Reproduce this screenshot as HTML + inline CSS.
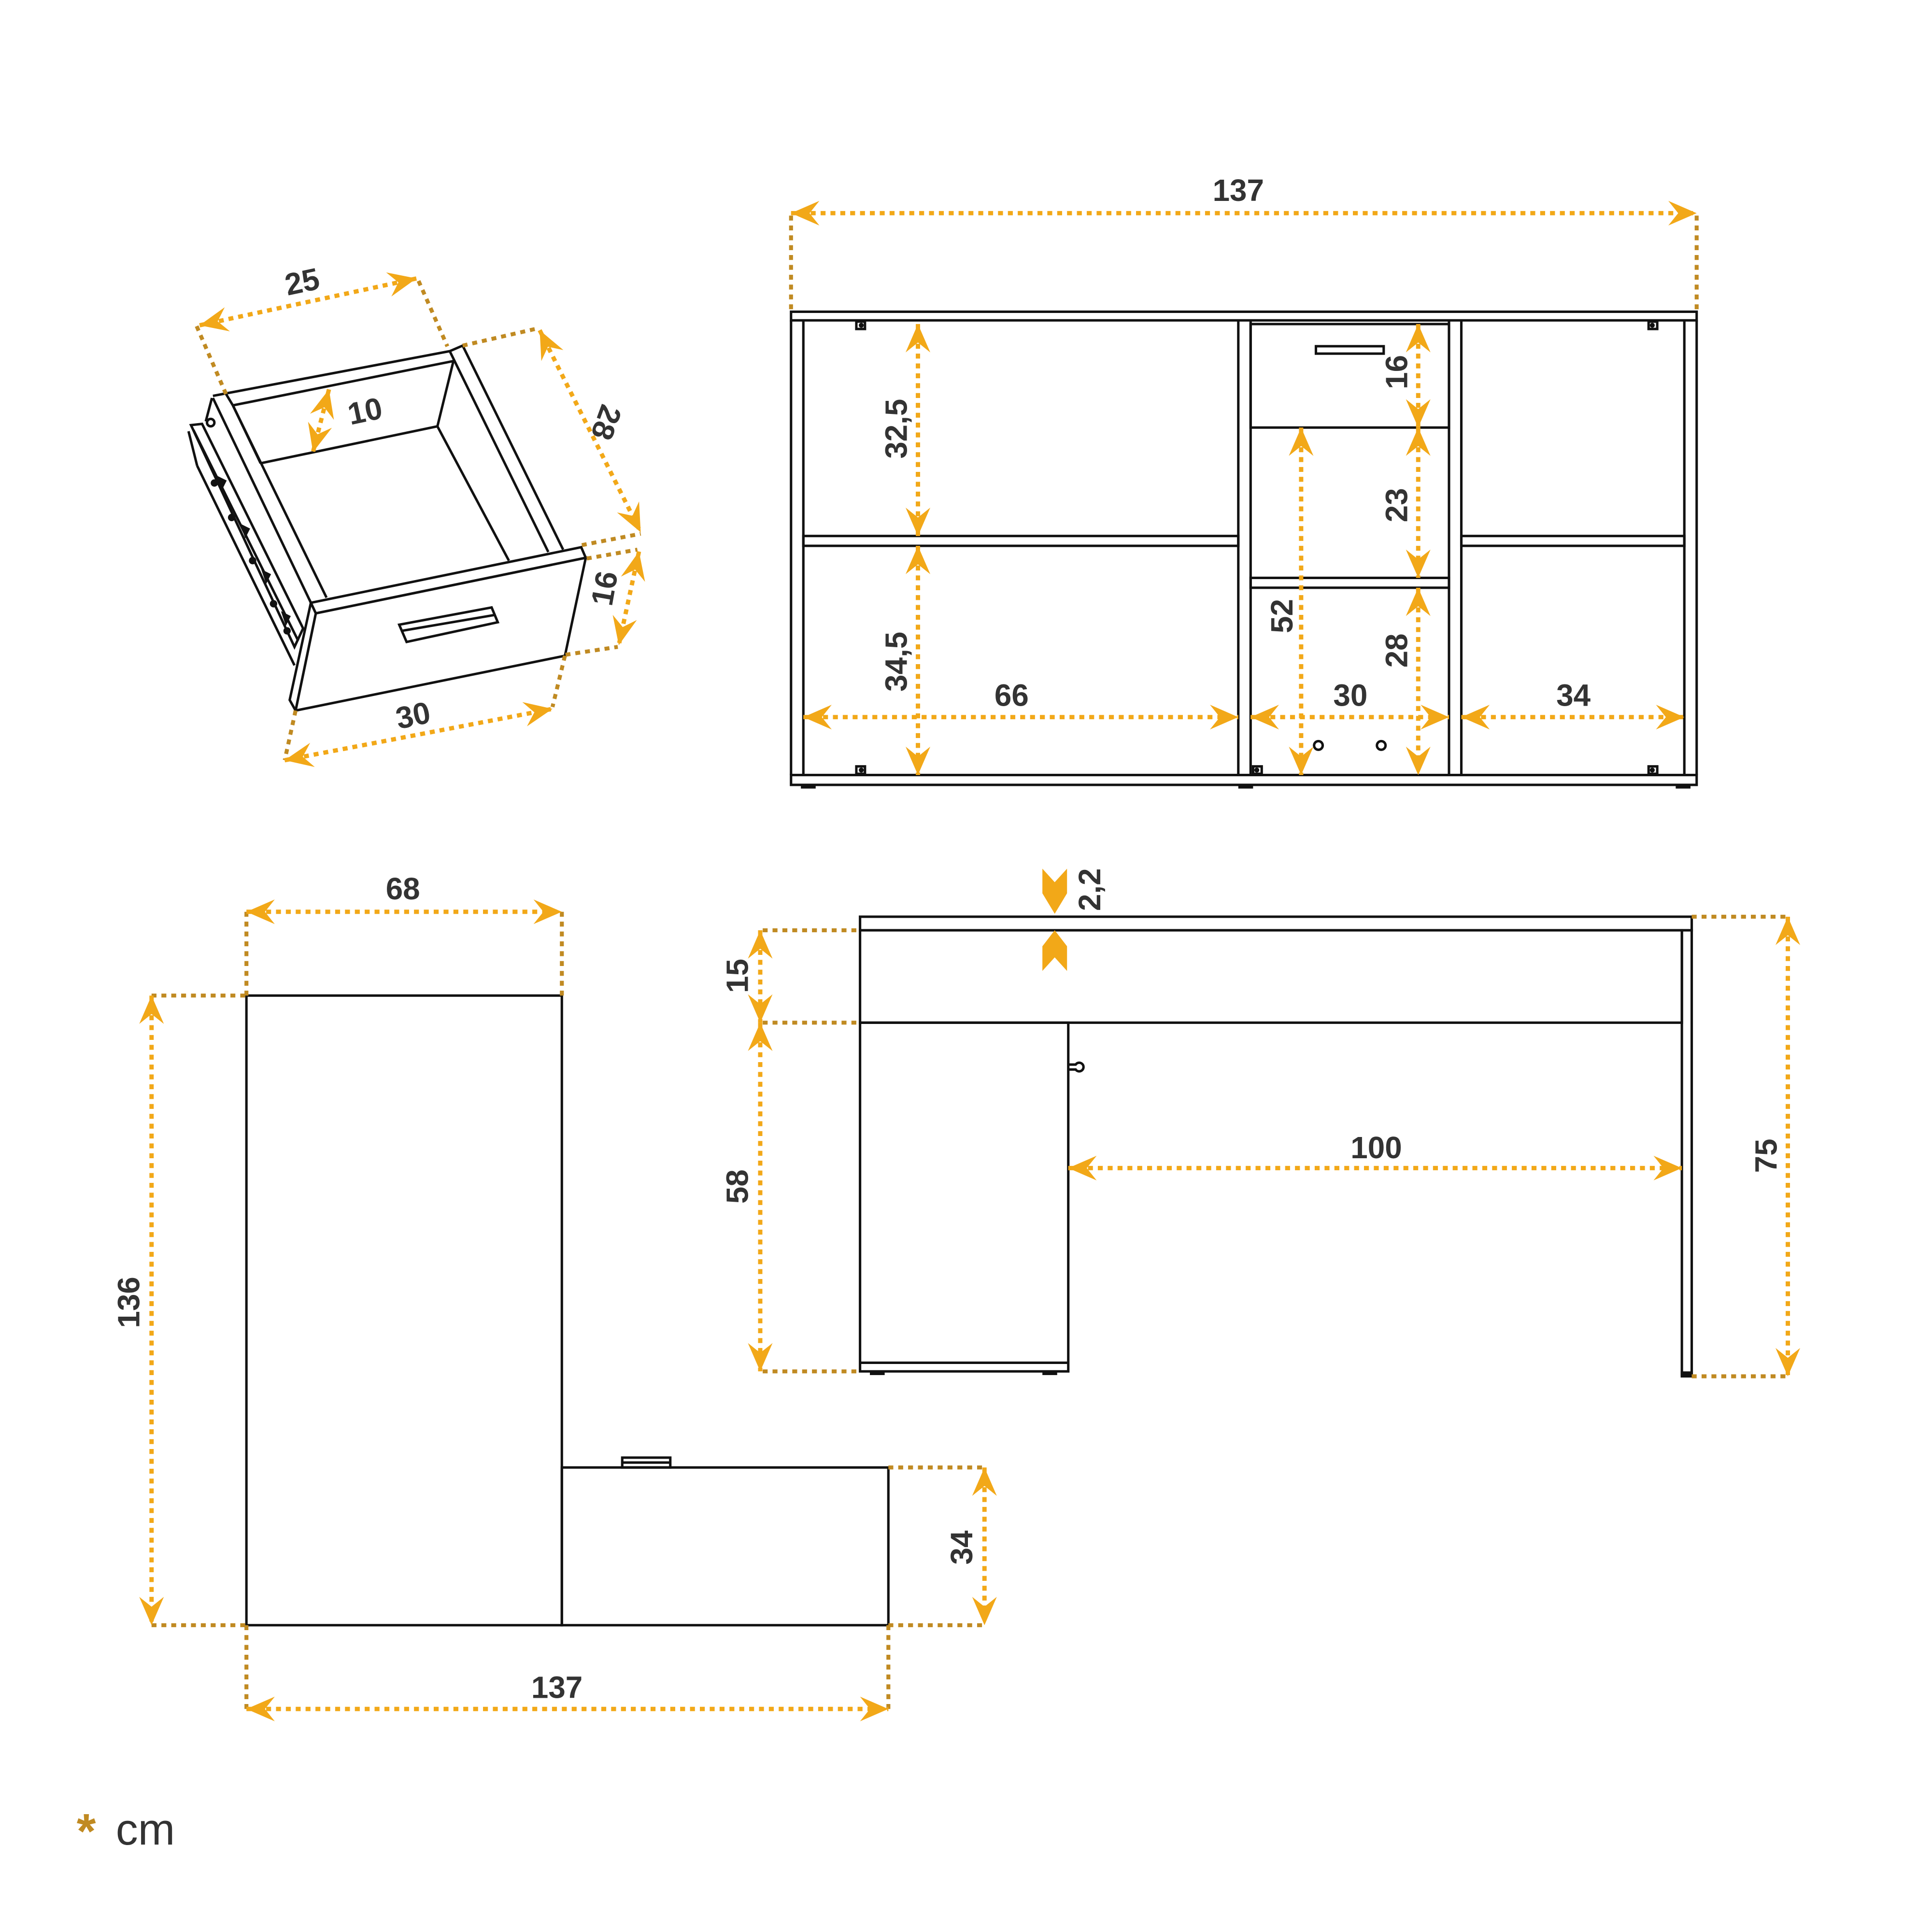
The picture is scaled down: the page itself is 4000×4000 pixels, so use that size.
<!DOCTYPE html>
<html><head><meta charset="utf-8"><style>html,body{margin:0;padding:0;background:#fff}svg{display:block}</style></head>
<body>
<svg xmlns="http://www.w3.org/2000/svg" width="4000" height="4000" viewBox="0 0 1568 1568">
<defs>
<marker id="a" viewBox="-24 -12 26 24" markerWidth="26" markerHeight="24" refX="0" refY="0" orient="auto-start-reverse" markerUnits="userSpaceOnUse">
<path d="M0,0 L-23,-10 L-15,0 L-23,10 Z" fill="#f2a818"/>
</marker>
</defs>
<rect width="1568" height="1568" fill="#fff"/>
<g fill="none" stroke="#111" stroke-width="2">
<rect x="642" y="253" width="735" height="7"/>
<rect x="642" y="629" width="735" height="8"/>
<line x1="642" y1="260" x2="642" y2="629"/><line x1="652" y1="260" x2="652" y2="629"/>
<line x1="1367" y1="260" x2="1367" y2="629"/><line x1="1377" y1="260" x2="1377" y2="629"/>
<line x1="1005" y1="260" x2="1005" y2="629"/><line x1="1015" y1="260" x2="1015" y2="629"/>
<line x1="1176" y1="260" x2="1176" y2="629"/><line x1="1186" y1="260" x2="1186" y2="629"/>
<rect x="652" y="435" width="353" height="8"/>
<rect x="1186" y="435" width="181" height="8"/>
<rect x="1015" y="263" width="161" height="84"/>
<rect x="1068" y="281" width="55" height="6"/>
<rect x="1015" y="469" width="161" height="8"/>
<circle cx="1070" cy="605" r="3.5"/><circle cx="1121" cy="605" r="3.5"/>
<rect x="695" y="261" width="7" height="6"/><rect x="695" y="622" width="7" height="6"/>
<rect x="1338" y="261" width="7" height="6"/><rect x="1338" y="622" width="7" height="6"/>
<rect x="1017" y="622" width="7" height="6"/>
<rect x="698" y="744" width="675" height="11"/>
<rect x="698" y="755" width="667" height="75"/>
<rect x="698" y="830" width="169" height="283"/>
<line x1="698" y1="1106" x2="867" y2="1106"/>
<rect x="1365" y="755" width="8" height="362"/>
<path d="M867,864 h6 a3.5,3.5 0 1 1 0,4 h-6"/>
<rect x="200" y="808" width="256" height="511"/>
<rect x="456" y="1191" width="265" height="128"/>
<rect x="505" y="1183" width="39" height="8"/>
<line x1="505" y1="1187" x2="544" y2="1187"/>
<polygon points="252.3,489.2 471.7,444.1 475.4,452.7 256.3,497.8" fill="#fff"/>
<polygon points="256.3,497.8 475.4,452.7 458.5,532.2 239.9,576.7" fill="#fff"/>
<polygon points="252.3,489.2 256.3,497.8 239.9,576.7 235.1,568.1" fill="#fff"/>
<polyline points="172.8,321.3 365,285 375.5,280.5 457,446"/>
<line x1="365" y1="285" x2="445" y2="448"/>
<line x1="183" y1="319" x2="189" y2="329"/>
<polyline points="189,329 368,293"/>
<line x1="189" y1="329" x2="265" y2="485"/>
<line x1="172.8" y1="323" x2="252.3" y2="489.2"/>
<polyline points="368,293 355,346 413,455"/>
<polyline points="211.5,376 355,346"/>
<line x1="189" y1="329" x2="211.5" y2="376"/>
<line x1="172" y1="323" x2="167" y2="342"/>
<circle cx="171" cy="343" r="3"/>
<polygon points="155,345 164,344 246,510 239,525"/>
<line x1="157" y1="349" x2="242" y2="520"/>
<line x1="160" y1="378" x2="239" y2="540"/>
<line x1="153" y1="350" x2="160" y2="378"/>
<polygon points="324,507 399,493 404,505 330,521" fill="#fff"/>
<line x1="326" y1="512" x2="402" y2="499"/>
</g>
<g fill="#111">
<circle cx="699" cy="264" r="2"/><circle cx="699" cy="625" r="2"/><circle cx="1341" cy="264" r="2"/><circle cx="1341" cy="625" r="2"/><circle cx="1020" cy="625" r="2"/>
<rect x="650" y="637" width="12" height="3"/><rect x="1005" y="637" width="12" height="3"/><rect x="1360" y="637" width="12" height="3"/>
<rect x="706" y="1113" width="12" height="3"/><rect x="846" y="1113" width="12" height="3"/><rect x="1364" y="1113" width="9" height="4"/>
<circle cx="174" cy="392" r="3"/><circle cx="188" cy="420" r="3"/><circle cx="205" cy="455" r="3"/><circle cx="222" cy="490" r="3"/><circle cx="233" cy="512" r="3"/>
<path d="M176,386 l8,4 l-4,8 z M195,425 l8,4 l-4,8 z M212,462 l8,4 l-4,8 z M228,496 l8,4 l-4,8 z"/>
</g>
<g stroke="#c08a22" stroke-width="3.2" stroke-dasharray="4 4" fill="none">
<line x1="642" y1="175" x2="642" y2="253"/><line x1="1377" y1="175" x2="1377" y2="253"/>
<line x1="619" y1="755" x2="698" y2="755"/><line x1="619" y1="830" x2="698" y2="830"/><line x1="619" y1="1113" x2="698" y2="1113"/>
<line x1="1373" y1="744" x2="1451" y2="744"/><line x1="1373" y1="1117" x2="1451" y2="1117"/>
<line x1="200" y1="740" x2="200" y2="808"/><line x1="456" y1="740" x2="456" y2="808"/>
<line x1="123" y1="808" x2="200" y2="808"/><line x1="123" y1="1319" x2="200" y2="1319"/>
<line x1="200" y1="1319" x2="200" y2="1387"/><line x1="721" y1="1319" x2="721" y2="1387"/>
<line x1="721" y1="1191" x2="799" y2="1191"/><line x1="721" y1="1319" x2="799" y2="1319"/>
<line x1="159.6" y1="264.7" x2="183.4" y2="319.8"/><line x1="339.7" y1="228" x2="363.1" y2="281.1"/>
<line x1="375.5" y1="280.5" x2="435.2" y2="266.8"/><line x1="472.2" y1="442.4" x2="520" y2="433.2"/>
<line x1="476.2" y1="453.3" x2="517.3" y2="446.1"/><line x1="459" y1="531.4" x2="501.4" y2="525"/>
<line x1="239.9" y1="576.7" x2="231.1" y2="616.9"/><line x1="458.5" y1="532.2" x2="448.4" y2="573.8"/>
</g>
<g stroke="#f2a818" stroke-width="3.5" stroke-dasharray="4 4" fill="none" marker-start="url(#a)" marker-end="url(#a)">
<line x1="642" y1="173" x2="1377" y2="173"/>
<line x1="745" y1="263" x2="745" y2="435"/>
<line x1="745" y1="443" x2="745" y2="629"/>
<line x1="652" y1="582" x2="1005" y2="582"/>
<line x1="1015" y1="582" x2="1176" y2="582"/>
<line x1="1186" y1="582" x2="1367" y2="582"/>
<line x1="1151" y1="263" x2="1151" y2="347"/>
<line x1="1151" y1="347" x2="1151" y2="469"/>
<line x1="1151" y1="477" x2="1151" y2="629"/>
<line x1="1056" y1="347" x2="1056" y2="629"/>
<line x1="617" y1="755" x2="617" y2="830"/>
<line x1="617" y1="830" x2="617" y2="1113"/>
<line x1="867" y1="948" x2="1365" y2="948"/>
<line x1="1451" y1="744" x2="1451" y2="1117"/>
<line x1="200" y1="740" x2="456" y2="740"/>
<line x1="123" y1="808" x2="123" y2="1319"/>
<line x1="200" y1="1387" x2="721" y2="1387"/>
<line x1="799" y1="1191" x2="799" y2="1319"/>
<line x1="162" y1="264" x2="338" y2="226"/>
<line x1="438" y1="268" x2="520" y2="432"/>
<line x1="267" y1="316" x2="254" y2="367"/>
<line x1="518.6" y1="447.6" x2="502.2" y2="523.6"/>
<line x1="231" y1="617" x2="448.4" y2="575.3"/>
</g>
<g fill="#f2a818">
<polygon points="846,705 856,716 866,705 866,725 856,741.6 846,725"/>
<polygon points="846,788 856,777 866,788 866,768 856,755 846,768"/>
</g>
<g font-family="Liberation Sans, sans-serif" font-weight="bold" font-size="25" fill="#333" text-anchor="middle">
<text x="1005" y="163">137</text>
<text x="821" y="573">66</text>
<text x="1096" y="573">30</text>
<text x="1277" y="573">34</text>
<text transform="translate(736,348) rotate(-90)">32,5</text>
<text transform="translate(736,537) rotate(-90)">34,5</text>
<text transform="translate(1142,302) rotate(-90)">16</text>
<text transform="translate(1142,410) rotate(-90)">23</text>
<text transform="translate(1142,528) rotate(-90)">28</text>
<text transform="translate(1049,500) rotate(-90)">52</text>
<text transform="translate(893,722) rotate(-90)">2,2</text>
<text transform="translate(607,792) rotate(-90)">15</text>
<text transform="translate(607,963) rotate(-90)">58</text>
<text x="1117" y="940">100</text>
<text transform="translate(1442,938) rotate(-90)">75</text>
<text x="327" y="730">68</text>
<text transform="translate(113,1057) rotate(-90)">136</text>
<text x="452" y="1378">137</text>
<text transform="translate(789,1256) rotate(-90)">34</text>
<text transform="translate(247,237) rotate(-12)">25</text>
<text transform="translate(298,342) rotate(-12)">10</text>
<text transform="translate(484,340) rotate(110)">28</text>
<text transform="translate(499,479) rotate(-80)">16</text>
<text transform="translate(337,589) rotate(-12)">30</text>
</g>
<text x="70" y="1500" font-family="Liberation Sans, sans-serif" font-weight="bold" font-size="40" fill="#c08a22" text-anchor="middle">*</text>
<text x="94" y="1497" font-family="Liberation Sans, sans-serif" font-size="36" fill="#333">cm</text>
</svg>
</body></html>
